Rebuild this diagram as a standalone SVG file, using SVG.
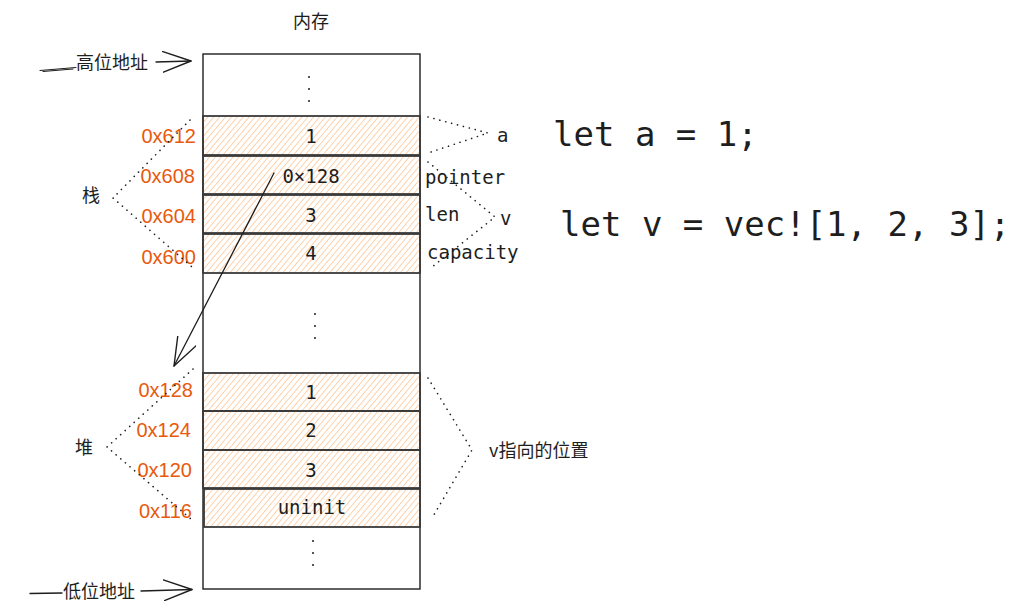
<svg xmlns="http://www.w3.org/2000/svg" width="1022" height="614" viewBox="0 0 1022 614">
<defs>
<pattern id="hatch" width="4.5" height="4.5" patternUnits="userSpaceOnUse" patternTransform="rotate(40)">
<line x1="0" y1="0" x2="0" y2="4.5" stroke="#ffae6a" stroke-width="1.4" stroke-opacity="0.8"/>
</pattern>
<marker id="open" viewBox="0 0 30 22" refX="28.5" refY="11" markerWidth="30" markerHeight="22" markerUnits="userSpaceOnUse" orient="auto">
<path d="M0,0.5 L28.5,11 L0,21.5" fill="none" stroke="#1e1e1e" stroke-width="1.4" stroke-linecap="round" stroke-linejoin="round"/>
</marker>
</defs>
<style>
.cell{fill:url(#hatch);stroke:#3a3a3a;stroke-width:1.8}
.outer{fill:#fff;stroke:#1e1e1e;stroke-width:1.4}
.val{font-family:"DejaVu Sans Mono","Liberation Mono",monospace;font-size:19px;fill:#1e1e1e;text-anchor:middle}
.lab{font-family:"DejaVu Sans Mono","Liberation Mono",monospace;font-size:19px;fill:#1e1e1e}
.addr{font-family:"Liberation Sans",Arial,sans-serif;font-size:20px;fill:#e8590c;text-anchor:end}
.cjk{font-family:"Noto Sans CJK SC","Noto Sans",sans-serif;font-size:18px;fill:#1e1e1e}
.code{font-family:"DejaVu Sans Mono","Liberation Mono",monospace;font-size:34px;fill:#1e1e1e}
.dot{fill:none;stroke:#1e1e1e;stroke-width:1.6;stroke-dasharray:0.1 6;stroke-linecap:round}
.ln{fill:none;stroke:#1e1e1e;stroke-width:1.3;stroke-linecap:round}
.thin{fill:none;stroke:#1e1e1e;stroke-width:1;stroke-linecap:round}
.vd{fill:#1e1e1e}
</style>

<g id="memory">
<rect class="outer" x="203" y="54" width="217" height="535"/>
<text class="cjk" x="311" y="28" text-anchor="middle">内存</text>
<circle class="vd" cx="309" cy="77" r="1"/><circle class="vd" cx="309" cy="89" r="1"/><circle class="vd" cx="309" cy="101" r="1"/>
<circle class="vd" cx="315" cy="314" r="1"/><circle class="vd" cx="315" cy="326" r="1"/><circle class="vd" cx="315" cy="338" r="1"/>
<circle class="vd" cx="313" cy="541" r="1"/><circle class="vd" cx="313" cy="553" r="1"/><circle class="vd" cx="313" cy="565" r="1"/>
</g>

<g id="stack-0x612"><rect class="cell" x="203" y="116" width="217" height="39"/><text class="val" x="311" y="143">1</text><text class="addr" x="196" y="143">0x612</text></g>
<g id="stack-0x608"><rect class="cell" x="203" y="156" width="217" height="38"/><text class="val" x="311" y="183">0×128</text><text class="addr" x="195" y="183">0x608</text></g>
<g id="stack-0x604"><rect class="cell" x="203" y="195" width="217" height="38"/><text class="val" x="311" y="222">3</text><text class="addr" x="196" y="223">0x604</text></g>
<g id="stack-0x600"><rect class="cell" x="203" y="234" width="217" height="39"/><text class="val" x="311" y="260">4</text><text class="addr" x="196" y="264">0x600</text></g>

<g id="heap-0x128"><rect class="cell" x="203" y="373" width="217" height="38"/><text class="val" x="311" y="399">1</text><text class="addr" x="193" y="397">0x128</text></g>
<g id="heap-0x124"><rect class="cell" x="203" y="411" width="217" height="39"/><text class="val" x="311" y="437">2</text><text class="addr" x="191" y="437">0x124</text></g>
<g id="heap-0x120"><rect class="cell" x="203" y="450" width="217" height="38"/><text class="val" x="311" y="477">3</text><text class="addr" x="192" y="477">0x120</text></g>
<g id="heap-0x116"><rect class="cell" x="204" y="489" width="216" height="38"/><text class="val" x="312" y="514">uninit</text><text class="addr" x="192" y="518">0x116</text></g>

<g id="label-stack"><text class="cjk" x="82" y="202">栈</text></g>
<g id="label-heap"><text class="cjk" x="75" y="454">堆</text></g>
<g id="label-high"><text class="cjk" x="76" y="69">高位地址</text></g>
<g id="label-low"><text class="cjk" x="63" y="598">低位地址</text></g>
<g id="label-a"><text class="lab" x="497" y="142">a</text></g>
<g id="label-v"><text class="lab" x="500" y="225">v</text></g>
<g id="label-pointer"><text class="lab" x="425" y="184">pointer</text></g>
<g id="label-len"><text class="lab" x="425" y="221">len</text></g>
<g id="label-capacity"><text class="lab" x="427" y="259">capacity</text></g>
<g id="label-vpos"><text class="cjk" x="489" y="457">v指向的位置</text></g>
<g id="code-a"><text class="code" x="553" y="146">let a = 1;</text></g>
<g id="code-v"><text class="code" x="560" y="236">let v = vec![1, 2, 3];</text></g>

<g id="connectors">
<path class="dot" d="M190,120 L113,198 L192,267"/>
<path class="dot" d="M193,369 L107,447 L192,520"/>
<path class="dot" d="M428,117 L488,133 L428,153"/>
<path class="dot" d="M428,162 L495,217 L432,267"/>
<path class="dot" d="M428,378 L472,450 L432,518"/>
<path class="thin" d="M40,70.5 L76,67.5 M43,71.5 L73,69"/>
<path class="ln" d="M156,62 L191,61" marker-end="url(#open)"/>
<path class="ln" d="M30,593.5 L62,593"/>
<path class="ln" d="M141,591 L192,589.5" marker-end="url(#open)"/>
<path class="ln" d="M274,173 L174,366" marker-end="url(#open)"/>
</g>
</svg>
